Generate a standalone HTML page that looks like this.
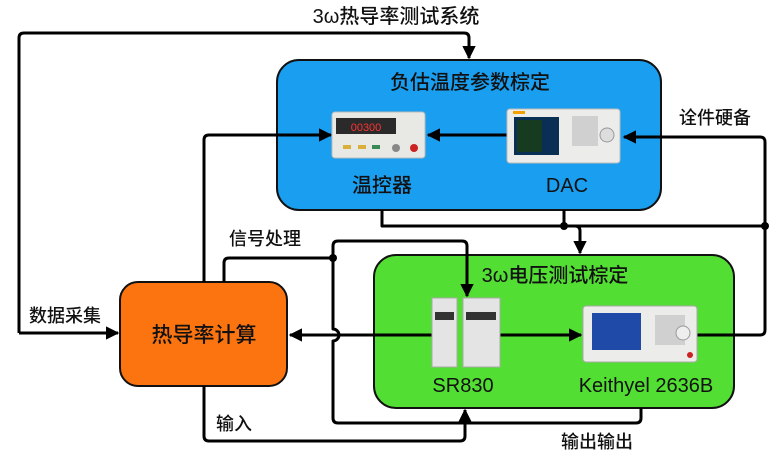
<!DOCTYPE html>
<html><head><meta charset="utf-8"><style>
html,body{margin:0;padding:0;background:#fff}
svg{display:block}
text{font-family:"Liberation Sans","Noto Sans CJK SC",sans-serif;fill:#111;font-weight:500}
</style></head><body>
<svg width="777" height="460" viewBox="0 0 777 460" xmlns="http://www.w3.org/2000/svg">
<defs>
<marker id="a" viewBox="0 0 10 10" refX="9" refY="5" markerWidth="4.5" markerHeight="4.5" markerUnits="strokeWidth" orient="auto"><path d="M0,0 L10,5 L0,10 z" fill="#000"/></marker>
</defs>
<text x="396" y="23" font-size="20" text-anchor="middle">3ω热导率测试系统</text>
<rect x="277" y="60" width="384" height="150" rx="22" fill="#1a9ef0" stroke="#111" stroke-width="2"/>
<text x="470" y="89" font-size="20" text-anchor="middle">负估温度参数棕定</text>
<rect x="374" y="255" width="360" height="153" rx="22" fill="#52de32" stroke="#111" stroke-width="2"/>
<text x="555" y="282" font-size="20" text-anchor="middle">3ω电压测试棕定</text>
<rect x="120" y="282" width="167" height="104" rx="18" fill="#fb7410" stroke="#111" stroke-width="2"/>
<text x="204" y="342" font-size="21" text-anchor="middle">热导率计算</text>
<g fill="none" stroke="#000" stroke-width="3" stroke-linejoin="round">
<path d="M19,333 V38 Q19,33 24,33 H464 Q469,33 469,38 V58" marker-end="url(#a)"/>
<path d="M19,333 H118" marker-end="url(#a)"/>
<path d="M204,282 V140 Q204,135 209,135 H331" marker-end="url(#a)"/>
<path d="M507,135 H428" marker-end="url(#a)"/>
<path d="M765,330 V142 Q765,137 760,137 H624" marker-end="url(#a)"/>
<path d="M382,210 V226 H765"/>
<path d="M564,210 V226"/>
<path d="M575,226 Q580,226 580,231 V253" marker-end="url(#a)"/>
<path d="M224,282 V263 Q224,258 229,258 H333"/>
<path d="M333,258 V246 Q333,241 338,241 H462 Q467,241 467,246 V296" marker-end="url(#a)"/>
<path d="M333,258 V329 A6,6 0 0 1 333,341 V418 Q333,423 338,423 H636 Q641,423 641,418 V408"/>
<path d="M432,335 H290" marker-end="url(#a)"/>
<path d="M500,335 H581" marker-end="url(#a)"/>
<path d="M697,335 H760 Q765,335 765,330"/>
<path d="M204,386 V436 Q204,441 209,441 H460 Q465,441 465,436 V410" marker-end="url(#a)"/>
</g>
<circle cx="564" cy="226" r="4" fill="#000"/>
<circle cx="765" cy="226" r="4" fill="#000"/>
<circle cx="333" cy="258" r="4" fill="#000"/>
<rect x="332" y="112" width="93" height="46" rx="3" fill="#e8e8e4" stroke="#bbb"/>
<rect x="336" y="118" width="60" height="16" fill="#2a2a2a"/>
<text x="366" y="131" font-size="11" style="fill:#f33" text-anchor="middle">00300</text>
<rect x="343" y="145" width="8" height="4" fill="#d9b03a"/><rect x="358" y="145" width="8" height="4" fill="#d9b03a"/><rect x="372" y="145" width="8" height="4" fill="#3a8a55"/>
<circle cx="396" cy="148" r="4" fill="#888"/><circle cx="414" cy="148" r="4" fill="#c22"/>
<rect x="507" y="109" width="113" height="54" rx="3" fill="#ececea" stroke="#bbb"/>
<rect x="514" y="117" width="45" height="38" fill="#0a2f55"/>
<rect x="517" y="120" width="25" height="32" fill="#163b20"/>
<rect x="513" y="111" width="12" height="3" fill="#f5a000"/>
<circle cx="607" cy="135" r="7" fill="#ddd" stroke="#999"/>
<rect x="572" y="116" width="26" height="30" fill="#d0d0d0"/>
<text x="382" y="192" font-size="20" text-anchor="middle">温控器</text>
<text x="567" y="192" font-size="20" text-anchor="middle">DAC</text>
<rect x="432" y="298" width="25" height="69" fill="#e4e4e4" stroke="#aaa"/>
<rect x="463" y="298" width="37" height="69" fill="#e4e4e4" stroke="#aaa"/>
<rect x="435" y="312" width="19" height="8" fill="#333"/><rect x="466" y="312" width="30" height="8" fill="#333"/>
<rect x="583" y="306" width="114" height="56" rx="3" fill="#ececea" stroke="#aaa"/>
<rect x="592" y="313" width="49" height="37" fill="#1f4aa8"/>
<rect x="655" y="315" width="30" height="30" fill="#d0d0d0"/>
<circle cx="683" cy="333" r="7" fill="#eee" stroke="#999"/>
<circle cx="690" cy="355" r="3" fill="#c22"/>
<text x="463" y="392" font-size="20" text-anchor="middle">SR830</text>
<text x="646" y="392" font-size="20" text-anchor="middle">Keithyel 2636B</text>
<text x="715" y="124" font-size="18" text-anchor="middle">诠件硬备</text>
<text x="265" y="245" font-size="18" text-anchor="middle">信号处理</text>
<text x="65" y="322" font-size="18" text-anchor="middle">数据采集</text>
<text x="234" y="430" font-size="18" text-anchor="middle">输入</text>
<text x="597" y="448" font-size="18" text-anchor="middle">输出输出</text>
</svg>
</body></html>
